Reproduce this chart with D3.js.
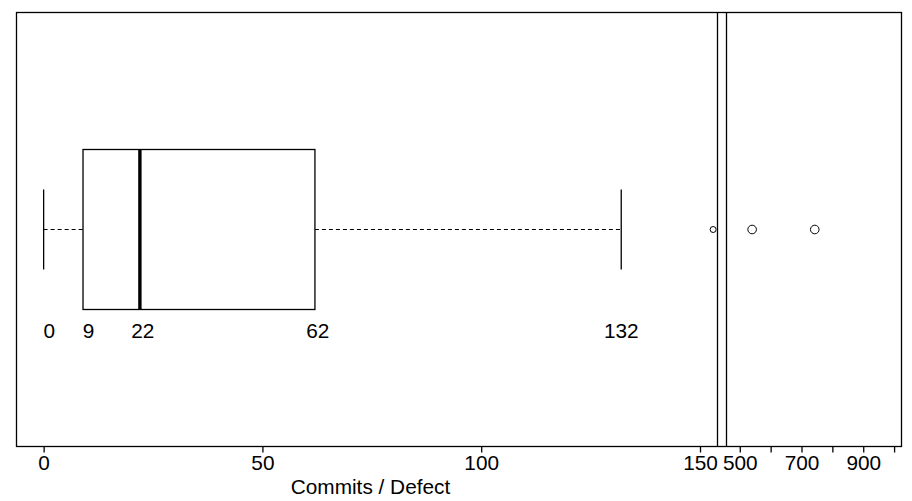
<!DOCTYPE html>
<html>
<head>
<meta charset="utf-8">
<script src="https://cdn.jsdelivr.net/npm/d3@7"></script>
<style>
  body { margin: 0; background: #fff; }
  svg { display: block; font-family: "Liberation Sans", Arial, sans-serif; }
</style>
</head>
<body>
<svg></svg>
<script>
// five-number summary: lower whisker, q1, median, q3, upper whisker
const stats = [0, 9, 22, 62, 132];
const outliersLow = [153];
const outliersHigh = [540, 743];
const leftTicks = [0, 50, 100, 150];
const rightTicks = [500, 600, 700, 800, 900, 1000];
const rightTickLabels = [500, 700, 900];

const width = 912;
const height = 501;
const fontSize = 20.8;
const svg = d3.select('svg')
  .attr('width', width)
  .attr('height', height);

const plotTop = 12.5;
const plotBottom = 446.5;
const plotLeft = 16.5;
const plotRight = 901.5;
const gapA = 717.5;
const gapB = 726.5;

const xLeft = d3.scaleLinear().domain([-6.2, 154]).range([plotLeft, gapA]);
const xRight = d3.scaleLinear().domain([457, 1024]).range([gapB, plotRight]);

const yMid = 229.5;
const boxHalf = 80;
const capHalf = 40;

const g = svg.append('g');

// frame
g.append('rect')
  .attr('x', plotLeft).attr('y', plotTop)
  .attr('width', plotRight - plotLeft).attr('height', plotBottom - plotTop)
  .attr('fill', 'none').attr('stroke', '#000').attr('stroke-width', 1.3);

// axis break lines
[gapA, gapB].forEach(x => {
  g.append('line')
    .attr('x1', x).attr('x2', x)
    .attr('y1', plotTop).attr('y2', plotBottom)
    .attr('stroke', '#000').attr('stroke-width', 1.3);
});

// whiskers
const [lo, q1, med, q3, hi] = stats;
g.append('line')
  .attr('x1', xLeft(lo)).attr('x2', xLeft(q1))
  .attr('y1', yMid).attr('y2', yMid)
  .attr('stroke', '#000').attr('stroke-dasharray', '4,3');
g.append('line')
  .attr('x1', xLeft(q3)).attr('x2', xLeft(hi))
  .attr('y1', yMid).attr('y2', yMid)
  .attr('stroke', '#000').attr('stroke-dasharray', '4,3');
[lo, hi].forEach(v => {
  g.append('line')
    .attr('x1', xLeft(v)).attr('x2', xLeft(v))
    .attr('y1', yMid - capHalf).attr('y2', yMid + capHalf)
    .attr('stroke', '#000').attr('stroke-width', 1.3);
});

// box
g.append('rect')
  .attr('x', xLeft(q1)).attr('y', yMid - boxHalf)
  .attr('width', xLeft(q3) - xLeft(q1)).attr('height', boxHalf * 2)
  .attr('fill', '#fff').attr('stroke', '#000').attr('stroke-width', 1.3);
g.append('line')
  .attr('x1', xLeft(med)).attr('x2', xLeft(med))
  .attr('y1', yMid - boxHalf).attr('y2', yMid + boxHalf)
  .attr('stroke', '#000').attr('stroke-width', 3.4);

// outliers
g.selectAll('.out-low')
  .data(outliersLow)
  .enter().append('circle')
  .attr('cx', d => xLeft(d)).attr('cy', yMid).attr('r', 3)
  .attr('fill', 'none').attr('stroke', '#000');
g.selectAll('.out-high')
  .data(outliersHigh)
  .enter().append('circle')
  .attr('cx', d => xRight(d)).attr('cy', yMid).attr('r', 4.3)
  .attr('fill', 'none').attr('stroke', '#000');

// value labels under the box
g.selectAll('.stat-label')
  .data(stats)
  .enter().append('text')
  .attr('x', d => xLeft(d) + (3 - String(d).length) * 2.8)
  .attr('y', 338)
  .attr('text-anchor', 'middle')
  .attr('font-size', fontSize)
  .text(d => d);

// axes
const axisLeft = d3.axisBottom(xLeft)
  .tickValues(leftTicks)
  .tickSize(6)
  .tickPadding(3);
const axisRight = d3.axisBottom(xRight)
  .tickValues(rightTicks)
  .tickSize(6)
  .tickPadding(3)
  .tickFormat(d => rightTickLabels.includes(d) ? d : '');

[axisLeft, axisRight].forEach(ax => {
  const a = svg.append('g')
    .attr('transform', `translate(0,${plotBottom})`)
    .call(ax);
  a.select('.domain').remove();
  a.selectAll('line').attr('stroke', '#000').attr('stroke-width', 1.3);
  a.selectAll('text')
    .attr('fill', '#000')
    .attr('font-size', fontSize)
    .attr('font-family', '"Liberation Sans", Arial, sans-serif');
});

svg.append('text')
  .attr('x', 370.5)
  .attr('y', 494)
  .attr('text-anchor', 'middle')
  .attr('font-size', fontSize)
  .text('Commits / Defect');
</script>
</body>
</html>
